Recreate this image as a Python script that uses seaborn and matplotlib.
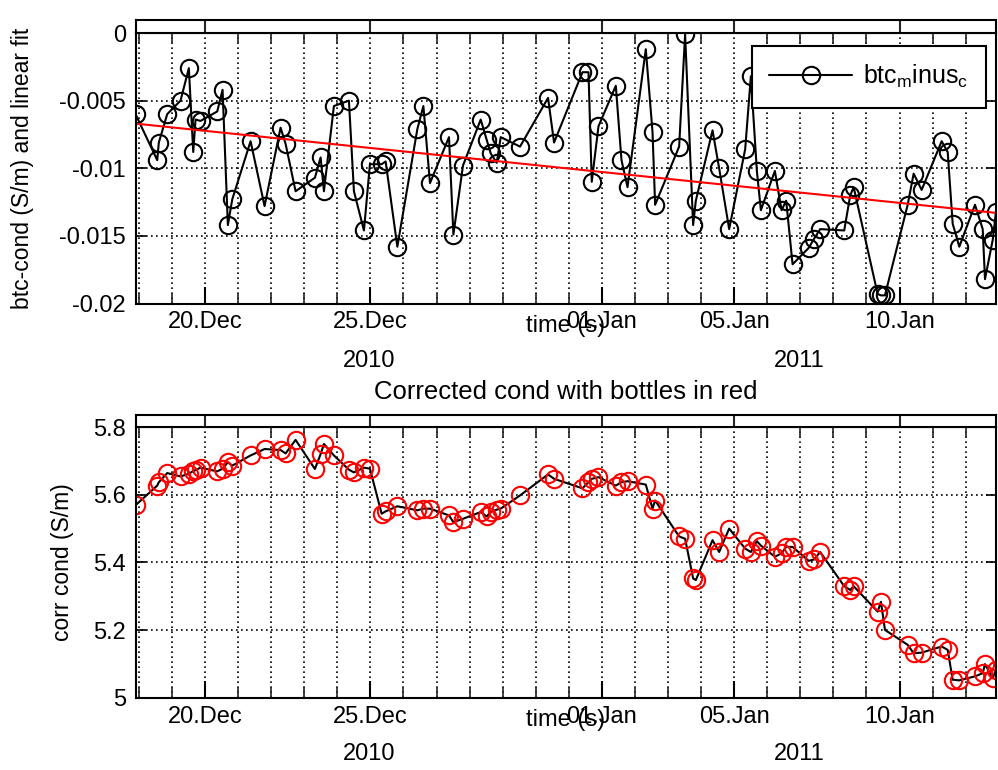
import numpy as np
import pandas as pd
import matplotlib
matplotlib.use("Agg")
import matplotlib.pyplot as plt
import matplotlib.dates as mdates
import matplotlib.transforms as mtransforms
import seaborn as sns

# ---- data: bottle sample times (days after 2010-12-20 00:00) ----
t_days = [
    -2.103, -1.446, -1.398, -1.144, -0.741, -0.490, -0.357, -0.287, -0.136, 0.369,
    0.530, 0.690, 0.823, 1.377, 1.800, 2.284, 2.436, 2.738, 3.322, 3.495,
    3.595, 3.897, 4.351, 4.502, 4.805, 4.986, 5.340, 5.461, 5.815, 6.420,
    6.602, 6.802, 7.377, 7.510, 7.800, 8.336, 8.517, 8.638, 8.820, 8.941,
    9.525, 10.372, 10.554, 11.413, 11.595, 11.694, 11.897, 12.421, 12.593, 12.775,
    13.328, 13.531, 13.610, 14.336, 14.517, 14.759, 14.841, 15.346, 15.546, 15.849,
    16.333, 16.505, 16.687, 16.808, 17.231, 17.434, 17.573, 17.767, 18.251, 18.420,
    18.602, 19.328, 19.510, 19.613, 20.339, 20.439, 20.560, 21.247, 21.428, 21.670,
    22.275, 22.457, 22.608, 22.808, 23.283, 23.516, 23.585, 23.819, 23.918,
]

# bottle minus CTD conductivity (S/m)
btc_minus_c = [
    -0.0060, -0.0094, -0.0081, -0.0060, -0.0050, -0.0026, -0.0088, -0.0064, -0.0065, -0.0058,
    -0.0042, -0.0142, -0.0123, -0.0080, -0.0128, -0.0070, -0.0082, -0.0117, -0.0107, -0.0092,
    -0.0117, -0.0054, -0.0050, -0.0117, -0.0146, -0.0097, -0.0097, -0.0095, -0.0158, -0.0071,
    -0.0054, -0.0111, -0.0077, -0.0149, -0.0098, -0.0064, -0.0079, -0.0089, -0.0096, -0.0077,
    -0.0084, -0.0048, -0.0081, -0.0029, -0.0029, -0.0110, -0.0069, -0.0039, -0.0094, -0.0114,
    -0.0012, -0.0073, -0.0127, -0.0084, -0.0001, -0.0142, -0.0124, -0.0072, -0.0100, -0.0145,
    -0.0086, -0.0032, -0.0102, -0.0131, -0.0102, -0.0131, -0.0124, -0.0171, -0.0159, -0.0152,
    -0.0145, -0.0146, -0.0120, -0.0114, -0.0193, -0.0194, -0.0194, -0.0127, -0.0104, -0.0116,
    -0.0080, -0.0088, -0.0141, -0.0158, -0.0127, -0.0145, -0.0182, -0.0153, -0.0132,
]

# linear fit of the difference, end values (S/m)
fit_values = [-0.0067, -0.0133]

# corrected CTD conductivity at the bottle times (S/m)
corr_cond = [
    5.569, 5.627, 5.637, 5.664, 5.654, 5.662, 5.670, 5.673, 5.680, 5.669,
    5.677, 5.696, 5.686, 5.716, 5.735, 5.732, 5.722, 5.762, 5.676, 5.720,
    5.750, 5.716, 5.674, 5.666, 5.680, 5.677, 5.544, 5.551, 5.566, 5.554,
    5.559, 5.559, 5.539, 5.519, 5.529, 5.549, 5.536, 5.549, 5.556, 5.559,
    5.598, 5.660, 5.647, 5.619, 5.637, 5.647, 5.652, 5.627, 5.637, 5.640,
    5.630, 5.559, 5.583, 5.477, 5.470, 5.353, 5.348, 5.466, 5.431, 5.500,
    5.441, 5.431, 5.463, 5.450, 5.417, 5.427, 5.446, 5.446, 5.405, 5.409,
    5.431, 5.330, 5.319, 5.330, 5.255, 5.284, 5.201, 5.157, 5.132, 5.134,
    5.152, 5.142, 5.054, 5.052, 5.064, 5.073, 5.100, 5.059, 5.083,
]

top_yticks = [-0.02, -0.015, -0.01, -0.005, 0.0]
top_yticklabels = ["-0.02", "-0.015", "-0.01", "-0.005", "0"]
bot_yticks = [5.0, 5.2, 5.4, 5.6, 5.8]
bot_yticklabels = ["5", "5.2", "5.4", "5.6", "5.8"]
year_labels = ["2010", "2011"]

# ---- frames ----
base = pd.Timestamp("2010-12-20")
times = base + pd.to_timedelta(t_days, unit="D")
df = pd.DataFrame({"time": times, "btc_minus_c": btc_minus_c, "corr_cond": corr_cond})
fit_df = pd.DataFrame({"time": [times[0], times[-1]], "fit": fit_values})

sns.set_theme(style="white")
plt.rcParams["font.family"] = ["Liberation Sans", "DejaVu Sans"]
plt.rcParams["axes.linewidth"] = 1.5
plt.rcParams["axes.edgecolor"] = "black"

FS = 17          # tick labels, axis labels, years
FS_YLAB = 16.5
FS_TITLE = 18.5
W, H = 998, 770
fig = plt.figure(figsize=(W / 100, H / 100), dpi=100)
fig.patch.set_facecolor("white")


def frac(l, t, r, b):
    return [l / W, 1 - b / H, (r - l) / W, (b - t) / H]


xlim = (times[0], times[-1])
major_loc = lambda: mdates.DayLocator(bymonthday=[1, 5, 10, 20, 25])
grid_kw = dict(color="black", linestyle=(0, (1, 2)), linewidth=1.2)


def style_axes(ax, strip, yticks, yticklabels, label_y, xlabel_y, ylabel_x, ylabel):
    ax.set_facecolor("white")
    ax.set_xlim(*xlim)
    ax.xaxis.set_major_locator(major_loc())
    ax.xaxis.set_minor_locator(mdates.DayLocator())
    ax.xaxis.set_major_formatter(mdates.DateFormatter("%d.%b"))
    ax.tick_params(axis="x", which="major", direction="in", length=12, width=1.5,
                   bottom=True, top=False, pad=5.5, labelsize=FS, colors="black")
    ax.tick_params(axis="x", which="minor", direction="in", length=7, width=1.2,
                   bottom=True, top=True)
    ax.set_yticks(yticks)
    ax.set_yticklabels(yticklabels)
    ax.tick_params(axis="y", direction="in", length=7, width=1.2, left=True, right=True,
                   pad=7, labelsize=FS, colors="black")
    ax.grid(which="both", axis="x", **grid_kw)
    ax.grid(which="major", axis="y", **grid_kw)
    ax.set_axisbelow(True)
    for s in ax.spines.values():
        s.set_visible(True)
        s.set_linewidth(1.5)
        s.set_color("black")
    ax.set_xlabel("time (s)", fontsize=FS, color="black")
    ax.xaxis.set_label_coords(0.5, xlabel_y)
    ax.set_ylabel(ylabel, fontsize=FS_YLAB, color="black")
    ax.yaxis.set_label_coords(ylabel_x, 0.5)

    # year captions centred on each year's part of the time range
    trans = mtransforms.blended_transform_factory(ax.transData, ax.transAxes)
    boundary = pd.Timestamp("2011-01-01")
    spans = [(xlim[0], boundary), (boundary, xlim[1])]
    for lab, (a, b) in zip(year_labels, spans):
        xc = mdates.date2num(a) + (mdates.date2num(b) - mdates.date2num(a)) / 2
        ax.text(xc, label_y, lab, transform=trans, ha="center", va="baseline",
                fontsize=FS, color="black")

    # date strip above the plotting area
    strip.set_facecolor("white")
    strip.set_xlim(*xlim)
    strip.xaxis.set_major_locator(major_loc())
    strip.xaxis.set_minor_locator(matplotlib.ticker.NullLocator())
    strip_len = strip.get_position().height * H * 0.72
    strip.tick_params(axis="x", which="major", direction="in", length=strip_len, width=1.5,
                      bottom=True, top=False, labelbottom=False)
    strip.set_yticks([])
    for s in strip.spines.values():
        s.set_visible(True)
        s.set_linewidth(1.5)
        s.set_color("black")


legend_label = r"btc$_\mathregular{m}$inus$_\mathregular{c}$"

# ---- upper panel: difference and linear fit ----
ax1 = fig.add_axes(frac(135.5, 33, 996, 303.5))
strip1 = fig.add_axes(frac(135.5, 20, 996, 33))
sns.lineplot(data=df, x="time", y="btc_minus_c", ax=ax1, color="black", linewidth=1.5,
             marker="o", markersize=12.5, markerfacecolor="none", markeredgecolor="black",
             markeredgewidth=1.5, estimator=None, sort=False, legend=False)
sns.lineplot(data=fit_df, x="time", y="fit", ax=ax1, color="red", linewidth=1.5,
             estimator=None, sort=False, legend=False)
ax1.set_ylim(-0.02, 0)
style_axes(ax1, strip1, top_yticks, top_yticklabels,
           label_y=-(367 - 303.5) / 270.5, xlabel_y=-(315 - 303.5) / 270.5,
           ylabel_x=(34 - 135.5) / 860.5, ylabel="btc-cond (S/m) and linear fit")

leg = ax1.legend(handles=[ax1.lines[0]], labels=[legend_label],
                 loc="upper right", bbox_to_anchor=((986 - 135.5) / 860.5, 1 - (45.7 - 33) / 270.5),
                 borderaxespad=0, fontsize=FS + 1, frameon=True, fancybox=False, framealpha=1,
                 edgecolor="black", handlelength=3.3, handletextpad=0.45, borderpad=0.7)
leg.get_frame().set_linewidth(1.5)
for txt in leg.get_texts():
    txt.set_color("black")

# ---- lower panel: corrected conductivity with bottle values ----
ax2 = fig.add_axes(frac(135.5, 427, 996, 698))
strip2 = fig.add_axes(frac(135.5, 415, 996, 427))
sns.lineplot(data=df, x="time", y="corr_cond", ax=ax2, color="black", linewidth=1.5,
             estimator=None, sort=False, legend=False)
sns.lineplot(data=df, x="time", y="corr_cond", ax=ax2, color="red", linestyle="",
             marker="o", markersize=12.5, markerfacecolor="none", markeredgecolor="red",
             markeredgewidth=1.5, estimator=None, sort=False, legend=False)
ax2.set_ylim(5.0, 5.8)
style_axes(ax2, strip2, bot_yticks, bot_yticklabels,
           label_y=-(760.5 - 698) / 271, xlabel_y=-(709 - 698) / 271,
           ylabel_x=(74 - 135.5) / 860.5, ylabel="corr cond (S/m)")
ax2.set_title("Corrected cond with bottles in red", fontsize=FS_TITLE, color="black",
              y=1 + (427 - 392) / 271, va="center", pad=0)

fig.savefig("out.png", dpi=100, facecolor="white")
